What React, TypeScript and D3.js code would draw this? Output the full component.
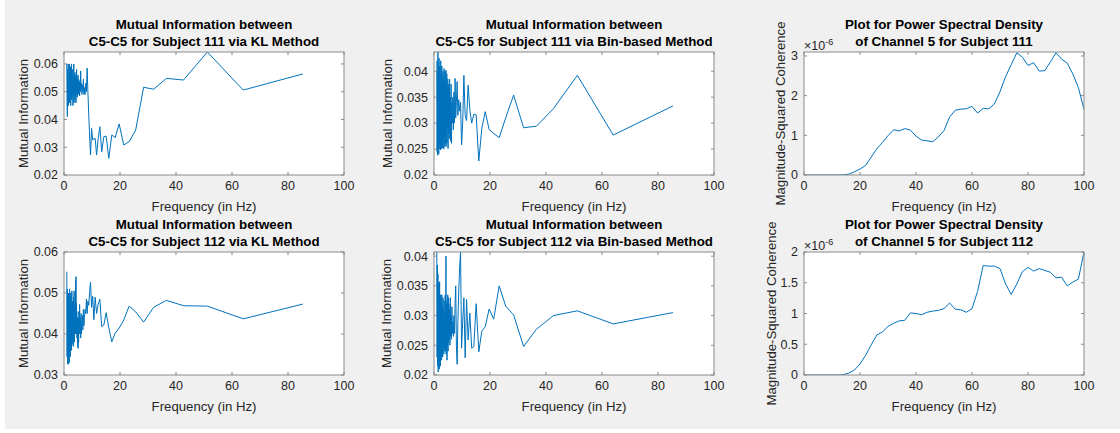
import React from 'react';
import * as d3 from 'd3';

// Frequencies (Hz) at which mutual information was evaluated (shared by all 4 MI plots)
const freqMI = [
  1.0, 1.1, 1.2, 1.3, 1.4, 1.5, 1.6, 1.7, 1.8, 1.9,
  2.0, 2.1, 2.2, 2.3, 2.4, 2.5, 2.6, 2.7, 2.8, 2.9,
  3.0, 3.1, 3.2, 3.3, 3.4, 3.5, 3.6, 3.7, 3.8, 3.9,
  4.0, 4.06, 4.13, 4.2, 4.27, 4.34, 4.41, 4.49, 4.57, 4.65, 4.74, 4.83, 4.92, 5.02,
  5.12, 5.22, 5.33, 5.45, 5.57, 5.69, 5.82, 5.95, 6.1, 6.24, 6.4, 6.56, 6.74, 6.92,
  7.11, 7.31, 7.53, 7.76, 8.0, 8.26, 8.53, 8.83,
  9.14, 9.48, 9.85, 10.24, 10.67, 11.13, 11.64, 12.19, 12.8, 13.47, 14.22, 15.06, 16.0,
  17.07, 18.29, 19.69, 21.33, 23.27, 25.6, 28.44, 32.0, 36.57, 42.67, 51.2, 64.0, 85.33,
];

const miKL111 = [
  0.0600, 0.0460, 0.0410, 0.0580, 0.0470, 0.0600, 0.0450, 0.0555, 0.0480, 0.0600,
  0.0460, 0.0570, 0.0500, 0.0590, 0.0450, 0.0560, 0.0480, 0.0600, 0.0470, 0.0550,
  0.0490, 0.0580, 0.0450, 0.0540, 0.0480, 0.0600, 0.0460, 0.0550, 0.0500, 0.0570,
  0.0470, 0.0560, 0.0495, 0.0545, 0.0460, 0.0530, 0.0490, 0.0580, 0.0510, 0.0550, 0.0480, 0.0535, 0.0500, 0.0560,
  0.0490, 0.0545, 0.0505, 0.0535, 0.0485, 0.0540, 0.0500, 0.0575, 0.0510, 0.0530, 0.0490, 0.0525, 0.0500, 0.0545,
  0.0490, 0.0515, 0.0490, 0.0530, 0.0500, 0.0585, 0.0500, 0.0420,
  0.0340, 0.0272, 0.0368, 0.0326, 0.0330, 0.0332, 0.0272, 0.0330, 0.0374, 0.0284, 0.0338, 0.0340, 0.0260,
  0.0344, 0.0335, 0.0384, 0.0308, 0.0320, 0.0362, 0.0516, 0.0509, 0.0548, 0.0542, 0.0643, 0.0506, 0.0564,
];

const miBin111 = [
  0.0420, 0.0245, 0.0400, 0.0238, 0.0437, 0.0250, 0.0415, 0.0240, 0.0425, 0.0260,
  0.0410, 0.0250, 0.0380, 0.0248, 0.0420, 0.0265, 0.0395, 0.0250, 0.0410, 0.0270,
  0.0390, 0.0252, 0.0400, 0.0265, 0.0385, 0.0250, 0.0405, 0.0275, 0.0380, 0.0255,
  0.0400, 0.0260, 0.0380, 0.0280, 0.0402, 0.0255, 0.0370, 0.0285, 0.0395, 0.0262, 0.0365, 0.0290, 0.0385, 0.0251,
  0.0375, 0.0280, 0.0360, 0.0270, 0.0385, 0.0295, 0.0350, 0.0265, 0.0375, 0.0261, 0.0340, 0.0300, 0.0350, 0.0287,
  0.0360, 0.0300, 0.0386, 0.0310, 0.0340, 0.0380, 0.0315, 0.0345,
  0.0323, 0.0340, 0.0258, 0.0300, 0.0392, 0.0315, 0.0305, 0.0373, 0.0325, 0.0300, 0.0317, 0.0316, 0.0227,
  0.0290, 0.0322, 0.0288, 0.0280, 0.0272, 0.0310, 0.0354, 0.0291, 0.0294, 0.0328, 0.0392, 0.0277, 0.0333,
];

const miKL112 = [
  0.0552, 0.0345, 0.0510, 0.0327, 0.0490, 0.0326, 0.0500, 0.0340, 0.0475, 0.0330,
  0.0510, 0.0355, 0.0480, 0.0345, 0.0500, 0.0370, 0.0470, 0.0360, 0.0505, 0.0375,
  0.0480, 0.0380, 0.0460, 0.0370, 0.0490, 0.0395, 0.0505, 0.0380, 0.0470, 0.0410,
  0.0480, 0.0400, 0.0530, 0.0420, 0.0540, 0.0430, 0.0475, 0.0400, 0.0455, 0.0390, 0.0440, 0.0370, 0.0420, 0.0365,
  0.0440, 0.0380, 0.0455, 0.0400, 0.0472, 0.0420, 0.0440, 0.0390, 0.0450, 0.0400, 0.0420, 0.0445, 0.0410, 0.0460,
  0.0420, 0.0440, 0.0460, 0.0450, 0.0485, 0.0450, 0.0480, 0.0470,
  0.0500, 0.0526, 0.0465, 0.0492, 0.0435, 0.0490, 0.0450, 0.0472, 0.0485, 0.0418, 0.0422, 0.0452, 0.0415,
  0.0381, 0.0402, 0.0414, 0.0434, 0.0468, 0.0454, 0.0429, 0.0465, 0.0482, 0.0469, 0.0468, 0.0437, 0.0473,
];

const miBin112 = [
  0.0407, 0.0230, 0.0385, 0.0215, 0.0370, 0.0205, 0.0355, 0.0225, 0.0340, 0.0210,
  0.0357, 0.0230, 0.0330, 0.0215, 0.0335, 0.0240, 0.0320, 0.0225, 0.0335, 0.0245,
  0.0315, 0.0230, 0.0330, 0.0250, 0.0310, 0.0235, 0.0325, 0.0245, 0.0300, 0.0240,
  0.0335, 0.0250, 0.0310, 0.0240, 0.0400, 0.0235, 0.0320, 0.0245, 0.0290, 0.0225, 0.0325, 0.0250, 0.0335, 0.0240,
  0.0330, 0.0255, 0.0320, 0.0260, 0.0310, 0.0250, 0.0330, 0.0265, 0.0300, 0.0260, 0.0315, 0.0270, 0.0290, 0.0265,
  0.0300, 0.0270, 0.0320, 0.0350, 0.0250, 0.0218, 0.0290, 0.0340,
  0.0380, 0.0407, 0.0245, 0.0290, 0.0330, 0.0229, 0.0327, 0.0259, 0.0304, 0.0245, 0.0248, 0.0320, 0.0239,
  0.0274, 0.0281, 0.0311, 0.0294, 0.0350, 0.0316, 0.0301, 0.0248, 0.0277, 0.0300, 0.0308, 0.0286, 0.0305,
];

// Power spectral density (magnitude-squared coherence), units of 1e-6
const freqPSD = [
  0, 2, 4, 6, 8, 10, 12, 14, 16, 18, 20, 22, 24, 26, 28, 30, 32, 34, 36, 38, 40,
  42, 44, 46, 48, 50, 52, 54, 56, 58, 60, 62, 64, 66, 68, 70, 72, 74, 76, 78, 80,
  82, 84, 86, 88, 90, 92, 94, 96, 98, 100,
];
const psd111 = [
  0, 0, 0, 0, 0, 0, 0, 0.003, 0.02, 0.08, 0.15, 0.24, 0.45, 0.66, 0.82, 0.99, 1.14, 1.11, 1.17, 1.13, 0.98,
  0.88, 0.86, 0.84, 0.96, 1.12, 1.46, 1.63, 1.66, 1.67, 1.73, 1.56, 1.68, 1.67, 1.79, 2.1, 2.48, 2.78, 3.08, 2.97, 2.76,
  2.83, 2.62, 2.63, 2.85, 3.08, 2.92, 2.82, 2.55, 2.2, 1.66,
];
const psd112 = [
  0, 0, 0, 0, 0, 0, 0, 0.005, 0.03, 0.08, 0.18, 0.32, 0.49, 0.65, 0.70, 0.79, 0.84, 0.88, 0.89, 1.01, 1.0,
  0.98, 1.02, 1.04, 1.05, 1.08, 1.17, 1.07, 1.06, 1.02, 1.08, 1.36, 1.78, 1.77, 1.77, 1.73, 1.48, 1.31, 1.48, 1.68, 1.75,
  1.69, 1.73, 1.70, 1.67, 1.58, 1.59, 1.45, 1.51, 1.56, 2.0,
];

const xTicks = [0, 20, 40, 60, 80, 100];
const yTicksKL111 = [0.02, 0.03, 0.04, 0.05, 0.06];
const yTicksBin = [0.02, 0.025, 0.03, 0.035, 0.04];
const yTicksKL112 = [0.03, 0.04, 0.05, 0.06];
const yTicksPSD111 = [0, 1, 2, 3];
const yTicksPSD112 = [0, 0.5, 1, 1.5, 2];

const FONT = "'Liberation Sans', Arial, Helvetica, sans-serif";
const TXT = '#262626';
const LINE = '#0072BD';

type PanelProps = {
  id: string;
  left: number; right: number; top: number; bottom: number;
  xs: number[]; ys: number[];
  yDomain: [number, number];
  yTicks: number[];
  titles: [string, string];
  ylabel: string;
  ylabelX: number;
  exponent?: boolean;
};

function Panel(p: PanelProps) {
  const x = d3.scaleLinear().domain([0, 100]).range([p.left, p.right]);
  const y = d3.scaleLinear().domain(p.yDomain).range([p.bottom, p.top]);
  const line = d3.line<number>().x((_, i) => x(p.xs[i])).y((d) => y(d));
  const tl = 3;
  const cx = (p.left + p.right) / 2;
  const cy = (p.top + p.bottom) / 2;
  return (
    <g>
      <defs>
        <clipPath id={p.id}>
          <rect x={p.left} y={p.top} width={p.right - p.left} height={p.bottom - p.top} />
        </clipPath>
      </defs>
      <rect x={p.left} y={p.top} width={p.right - p.left} height={p.bottom - p.top} fill="#ffffff" />
      <path d={line(p.ys) || ''} fill="none" stroke={LINE} strokeWidth={1} clipPath={`url(#${p.id})`} strokeLinejoin="round" />
      <rect x={p.left} y={p.top} width={p.right - p.left} height={p.bottom - p.top} fill="none" stroke="#8a8a8a" strokeWidth={1} />
      {xTicks.map((t) => (
        <g key={'x' + t}>
          <line x1={x(t)} x2={x(t)} y1={p.bottom} y2={p.bottom - tl} stroke="#8a8a8a" />
          <line x1={x(t)} x2={x(t)} y1={p.top} y2={p.top + tl} stroke="#8a8a8a" />
          <text x={x(t)} y={p.bottom + 14.5} textAnchor="middle" fontSize={12.5} fill={TXT} fontFamily={FONT}>{String(t)}</text>
        </g>
      ))}
      {p.yTicks.map((t) => (
        <g key={'y' + t}>
          <line x1={p.left} x2={p.left + tl} y1={y(t)} y2={y(t)} stroke="#8a8a8a" />
          <line x1={p.right} x2={p.right - tl} y1={y(t)} y2={y(t)} stroke="#8a8a8a" />
          <text x={p.left - 6} y={y(t)} dy="0.35em" textAnchor="end" fontSize={12.5} fill={TXT} fontFamily={FONT}>{String(t)}</text>
        </g>
      ))}
      <text x={cx} y={p.bottom + 36} textAnchor="middle" fontSize={13.2} fill={TXT} fontFamily={FONT}>Frequency (in Hz)</text>
      <text transform={`translate(${p.ylabelX},${cy}) rotate(-90)`} dy="0.35em" textAnchor="middle" fontSize={13.2} fill={TXT} fontFamily={FONT}>{p.ylabel}</text>
      <text x={cx} y={p.top - 23.5} textAnchor="middle" fontSize={13.3} fontWeight="bold" fill="#000" fontFamily={FONT}>{p.titles[0]}</text>
      <text x={cx} y={p.top - 6.5} textAnchor="middle" fontSize={13.3} fontWeight="bold" fill="#000" fontFamily={FONT}>{p.titles[1]}</text>
      {p.exponent && (
        <text x={p.left} y={p.top - 2} fontSize={12.5} fill={TXT} fontFamily={FONT}>
          ×10<tspan fontSize={9} dy={-5}>-6</tspan>
        </text>
      )}
    </g>
  );
}

export default function App() {
  const cols = [[64, 344], [434, 714], [804, 1084]];
  const rows = [[52, 175], [252, 375]];
  return (
    <svg width={1120} height={433} style={{ position: 'absolute', left: 0, top: 0 }}>
      <rect x={0} y={0} width={1120} height={433} fill="#ffffff" />
      <rect x={5} y={0} width={1115} height={429} fill="#f0f0f0" />
      <Panel id="c1" left={cols[0][0]} right={cols[0][1]} top={rows[0][0]} bottom={rows[0][1]}
        xs={freqMI} ys={miKL111} yDomain={[0.02, 0.0643]} yTicks={yTicksKL111}
        titles={['Mutual Information between', 'C5-C5 for Subject 111 via KL Method']}
        ylabel="Mutual Information" ylabelX={23} />
      <Panel id="c2" left={cols[1][0]} right={cols[1][1]} top={rows[0][0]} bottom={rows[0][1]}
        xs={freqMI} ys={miBin111} yDomain={[0.02, 0.0437]} yTicks={yTicksBin}
        titles={['Mutual Information between', 'C5-C5 for Subject 111 via Bin-based Method']}
        ylabel="Mutual Information" ylabelX={387} />
      <Panel id="c3" left={cols[2][0]} right={cols[2][1]} top={rows[0][0]} bottom={rows[0][1]}
        xs={freqPSD} ys={psd111} yDomain={[0, 3.1]} yTicks={yTicksPSD111}
        titles={['Plot for Power Spectral Density', 'of Channel 5 for Subject 111']}
        ylabel="Magnitude-Squared Coherence" ylabelX={780} exponent />
      <Panel id="c4" left={cols[0][0]} right={cols[0][1]} top={rows[1][0]} bottom={rows[1][1]}
        xs={freqMI} ys={miKL112} yDomain={[0.03, 0.06]} yTicks={yTicksKL112}
        titles={['Mutual Information between', 'C5-C5 for Subject 112 via KL Method']}
        ylabel="Mutual Information" ylabelX={23} />
      <Panel id="c5" left={cols[1][0]} right={cols[1][1]} top={rows[1][0]} bottom={rows[1][1]}
        xs={freqMI} ys={miBin112} yDomain={[0.02, 0.0407]} yTicks={yTicksBin}
        titles={['Mutual Information between', 'C5-C5 for Subject 112 via Bin-based Method']}
        ylabel="Mutual Information" ylabelX={386} />
      <Panel id="c6" left={cols[2][0]} right={cols[2][1]} top={rows[1][0]} bottom={rows[1][1]}
        xs={freqPSD} ys={psd112} yDomain={[0, 2]} yTicks={yTicksPSD112}
        titles={['Plot for Power Spectral Density', 'of Channel 5 for Subject 112']}
        ylabel="Magnitude-Squared Coherence" ylabelX={771} exponent />
    </svg>
  );
}
